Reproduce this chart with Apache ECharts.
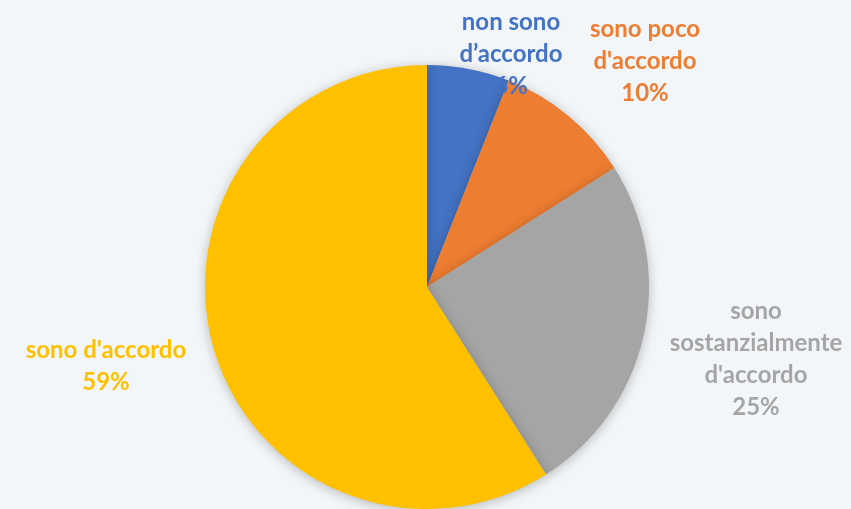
<!DOCTYPE html>
<html>
<head>
<meta charset="utf-8">
<script src="https://cdn.jsdelivr.net/npm/echarts@6/dist/echarts.min.js"></script>
<style>
  html, body { margin: 0; padding: 0; background: #f3f6f8; }
  #chart { width: 851px; height: 509px; }
</style>
</head>
<body>
<div id="chart"></div>
<script>
// categories and shares (%)
var categories = ['non sono\nd\u2019accordo', 'sono poco\nd\'accordo', 'sono\nsostanzialmente\nd\'accordo', 'sono d\'accordo'];
var values = [6, 10, 25, 59];
var colors = ['#4472C4', '#ED7D31', '#A5A5A5', '#FFC000'];
// label centres, same order as categories
var labelPos = [[511, 54], [645, 61], [756, 359], [106, 366]];

var chart = echarts.init(document.getElementById('chart'));
var option = {
    backgroundColor: '#f3f6f8',
    series: [
        {
            type: 'pie',
            center: [427, 287],
            radius: 222,
            startAngle: 90,
            clockwise: true,
            silent: true,
            animation: false,
            data: categories.map(function (c, i) {
                return {
                    name: c,
                    value: values[i],
                    itemStyle: { color: colors[i] },
                    label: { color: colors[i] }
                };
            }),
            itemStyle: {
                borderWidth: 0,
                shadowBlur: 12,
                shadowColor: 'rgba(0,0,0,0.25)',
                shadowOffsetY: 2
            },
            label: {
                show: true,
                position: 'outside',
                formatter: function (p) { return p.name + '\n' + p.value + '%'; },
                fontFamily: 'Lato',
                fontWeight: 'bold',
                fontSize: 24,
                lineHeight: 32,
                align: 'center',
                overflow: 'none',
                width: 220
            },
            labelLine: { show: false },
            labelLayout: function (params) {
                var pos = labelPos[params.dataIndex];
                return { x: pos[0], y: pos[1], align: 'center', verticalAlign: 'middle' };
            }
        }
    ]
};
chart.setOption(option);
</script>
</body>
</html>
